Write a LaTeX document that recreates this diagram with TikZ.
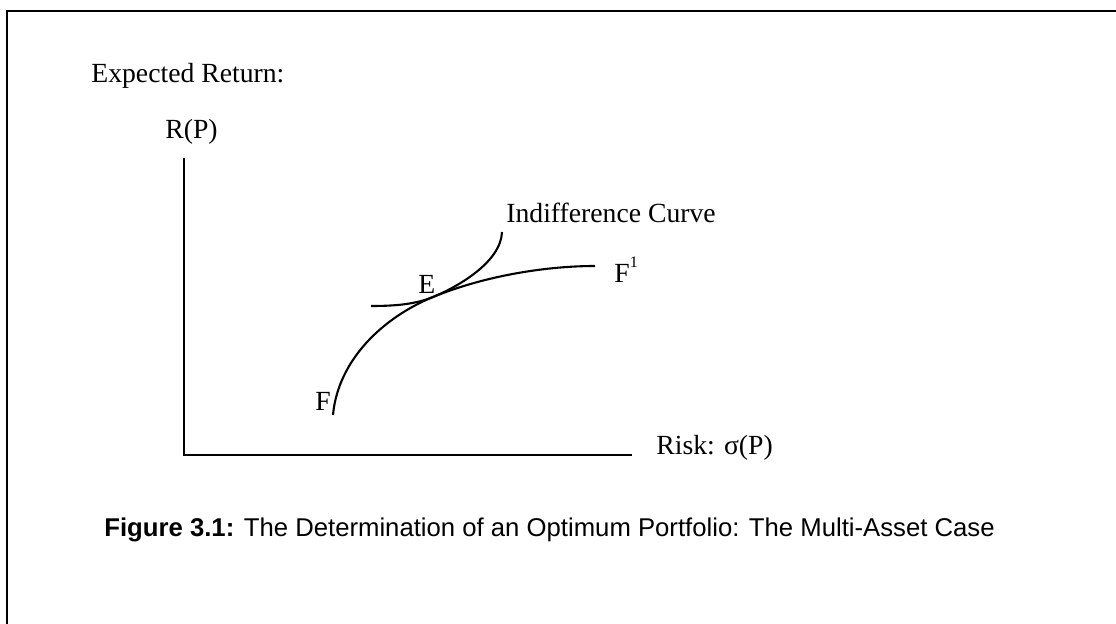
\documentclass[tikz,border=0pt]{standalone}
\usepackage{fontspec}
\setmainfont{Liberation Serif}
\newfontfamily\capfont{Liberation Sans}
\begin{document}
\begin{tikzpicture}[x=0.5pt,y=-0.5pt,
  lbl/.style={anchor=base west,inner sep=0pt,font=\fontsize{13.84}{16}\selectfont},
  captxt/.style={anchor=base west,inner sep=0pt,font=\capfont\fontsize{12.85}{15}\selectfont},
  framelin/.style={line width=0.8pt},
  axislin/.style={line width=1.05pt},
  crv/.style={line width=1.05pt}]
\useasboundingbox (0,0) rectangle (1116,624);
% frame (top and left)
\coordinate (fbl) at (7,624);
\coordinate (ftl) at (7,11);
\coordinate (ftr) at (1116,11);
\draw[framelin] (fbl) -- (ftl) -- (ftr);
% labels
\node[lbl] (er) at (91,83) {Expected Return:};
\node[lbl] (rp) at (165,139) {R(P)};
\node[lbl] (risk) at (656,455) {Risk: σ(P)};
\node[lbl] (ic) at (506,223) {Indifference Curve};
\node[lbl] (e) at (418,294) {E};
\node[lbl] (f1) at (614,283) {F\raisebox{1.2ex}{\fontsize{8}{9}\selectfont 1}};
\node[lbl] (f) at (315,411) {F};
\node[captxt] (caption) at (104,537) {\textbf{Figure 3.1:} The Determination of an Optimum Portfolio: The Multi-Asset Case};
% axes
\coordinate (ytop) at (184,158);
\coordinate (orig) at (184,455);
\coordinate (xend) at (632,455);
\draw[axislin] (ytop) -- (orig) -- (xend);
% efficient frontier
\coordinate (F0) at (333,415);
\coordinate (E0) at (433,297);
\coordinate (F1) at (595,266);
\draw[crv] (F0) .. controls (338,360) and (383,317.5) .. (E0)
  .. controls (488,274.5) and (550,266) .. (F1);
% indifference curve
\coordinate (I0) at (371,306);
\coordinate (I1) at (502,232);
\draw[crv] (I0) .. controls (395,306) and (415,304.4) .. (E0)
  .. controls (458,286.75) and (501,262) .. (I1);
\end{tikzpicture}
\end{document}
